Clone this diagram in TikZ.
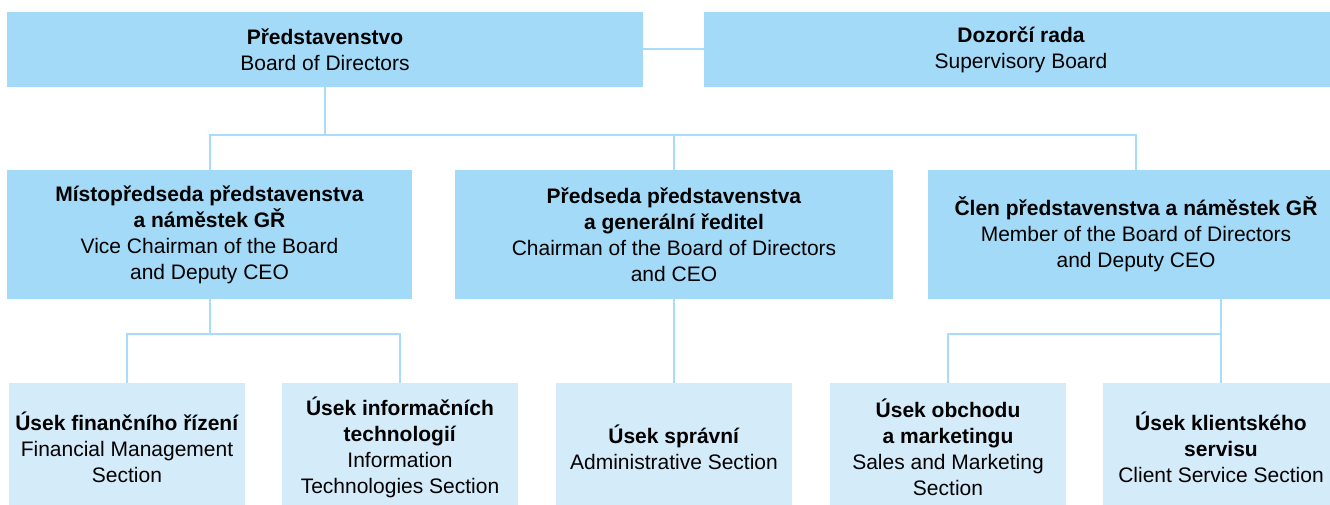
\documentclass[tikz,border=0pt]{standalone}
\usepackage{fontspec}
\setmainfont{Liberation Sans}
\definecolor{boxdark}{HTML}{A3DAF7}
\definecolor{boxlight}{HTML}{D4EBFA}
\definecolor{linec}{HTML}{A8DCF8}
\begin{document}
\begin{tikzpicture}[x=1pt,y=-1pt,
  box/.style={fill=boxdark,draw=none,align=center,inner sep=0pt,
    font=\fontsize{21}{26}\selectfont},
  topbox/.style={box,minimum height=75pt},
  midbox/.style={box,minimum height=129pt},
  lowbox/.style={box,fill=boxlight,minimum height=128pt,minimum width=236pt},
  conn/.style={draw=linec,line width=2pt}]
\useasboundingbox (0,0) rectangle (1330,504);
% top row
\node[topbox,minimum width=636pt] (top1) at (325,49.5) {\textbf{Představenstvo}\\Board of Directors};
\node[topbox,minimum width=634pt] (top2) at (1021,49.5) {\textbf{Dozorčí rada}\\Supervisory Board};
% middle row
\node[midbox,minimum width=405pt] (b1) at (209.5,234.5) {\textbf{Místopředseda představenstva}\\\textbf{a náměstek GŘ}\\Vice Chairman of the Board\\and Deputy CEO};
\node[midbox,minimum width=438pt] (b2) at (674,234.5) {\textbf{Předseda představenstva}\\\textbf{a generální ředitel}\\Chairman of the Board of Directors\\and CEO};
\node[midbox,minimum width=416pt] (b3) at (1136,234.5) {\textbf{Člen představenstva a náměstek GŘ}\\Member of the Board of Directors\\and Deputy CEO};
% bottom row
\node[lowbox] (sa) at (127,447) {\textbf{Úsek finančního řízení}\\Financial Management\\Section};
\node[lowbox] (sb) at (400,447) {\textbf{Úsek informačních}\\\textbf{technologií}\\Information\\Technologies Section};
\node[lowbox] (sc) at (674,447) {\textbf{Úsek správní}\\Administrative Section};
\node[lowbox] (sd) at (948,447) {\textbf{Úsek obchodu}\\\textbf{a marketingu}\\Sales and Marketing\\Section};
\node[lowbox] (se) at (1221,447) {\textbf{Úsek klientského}\\\textbf{servisu}\\Client Service Section};
% bus coordinates
\coordinate (bus1) at (325,135);
\coordinate (bus2) at (209.5,334);
\coordinate (bus3) at (1221,334);
% connectors
\draw[conn] (top1.east |- 0,49) -- (top2.west |- 0,49);
\draw[conn] (top1.south) -- (bus1);
\draw[conn] (b1.north) -- (b1.north |- bus1) -- (b3.north |- bus1) -- (b3.north);
\draw[conn] (b2.north |- bus1) -- (b2.north);
\draw[conn] (b1.south) -- (bus2);
\draw[conn] (sa.north) -- (sa.north |- bus2) -- (sb.north |- bus2) -- (sb.north);
\draw[conn] (b2.south) -- (sc.north);
\draw[conn] (se.north |- b3.south) -- (se.north);
\draw[conn] (sd.north) -- (sd.north |- bus3) -- (bus3);
\end{tikzpicture}
\end{document}
